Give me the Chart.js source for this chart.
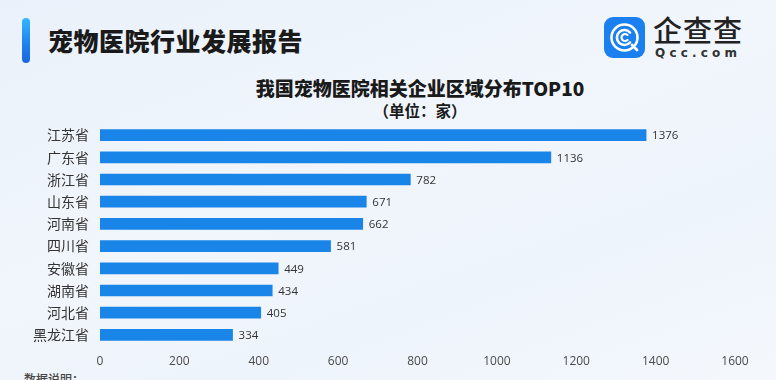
<!DOCTYPE html>
<html>
<head>
<meta charset="utf-8">
<script src="https://cdn.jsdelivr.net/npm/chart.js@4"></script>
<style>
  html,body{margin:0;padding:0;}
  body{width:776px;height:380px;overflow:hidden;position:relative;
    background:linear-gradient(160deg,#eaf1fa 0%,#f1f6fc 45%,#eef4fb 70%,#f4f8fd 100%);
    font-family:"Noto Sans CJK SC","Noto Sans",sans-serif;}
  #accent{position:absolute;left:22px;top:18px;width:8px;height:45px;border-radius:4px;
    background:linear-gradient(180deg,#35b6ff 0%,#1f7fef 60%,#1766e0 100%);}
  #head{position:absolute;left:48px;top:20px;font-size:25px;font-weight:900;color:#1a1a1a;line-height:40px;letter-spacing:0.5px;}
  #logo{position:absolute;left:604px;top:17px;width:41px;height:41px;border-radius:9px;background:#1a80f0;}
  #logo svg{position:absolute;left:0;top:0;}
  #brand{position:absolute;left:653px;top:12px;font-size:29px;color:#222;line-height:34px;letter-spacing:1px;font-weight:500;}
  #brand2{position:absolute;left:655px;top:46px;font-size:12px;color:#333;letter-spacing:4.2px;font-family:"DejaVu Sans",sans-serif;font-weight:bold;}
  #t1{position:absolute;left:0;width:840px;top:75px;text-align:center;font-size:19px;font-weight:900;color:#1a1a1a;line-height:26px;}
  #t2{position:absolute;left:0;width:840px;top:99px;text-align:center;font-size:15.5px;font-weight:700;color:#1a1a1a;line-height:22px;}
  #note{position:absolute;left:24px;top:371px;font-size:12px;color:#444;font-weight:500;line-height:16px;}
  canvas{position:absolute;left:0;top:0;}
</style>
</head>
<body>
<div id="accent"></div>
<div id="head">宠物医院行业发展报告</div>
<div id="logo"><svg width="41" height="41" viewBox="0 0 41 41">
  <circle cx="20.5" cy="20.5" r="13" fill="none" stroke="#fff" stroke-width="2.6"/>
  <path d="M26 15.5 A7.5 7.5 0 1 0 26 25.5" fill="none" stroke="#fff" stroke-width="2.6" stroke-linecap="round"/>
  <path d="M23.5 18 A3.5 3.5 0 1 0 23.5 23" fill="none" stroke="#fff" stroke-width="2.2" stroke-linecap="round"/>
  <path d="M28 28 L33 33" stroke="#fff" stroke-width="2.8" stroke-linecap="round"/>
</svg></div>
<div id="brand">企查查</div>
<div id="brand2">Qcc.com</div>
<div id="t1">我国宠物医院相关企业区域分布TOP10</div>
<div id="t2">（单位：家）</div>
<div id="note">数据说明：</div>
<canvas id="c" width="776" height="380"></canvas>
<script>
const categories = ["江苏省","广东省","浙江省","山东省","河南省","四川省","安徽省","湖南省","河北省","黑龙江省"];
const values = [1376,1136,782,671,662,581,449,434,405,334];
const xTicks = [0,200,400,600,800,1000,1200,1400,1600];

const valueLabels = {
  id:'valueLabels',
  afterDatasetsDraw(chart){
    const ctx = chart.ctx;
    const meta = chart.getDatasetMeta(0);
    ctx.save();
    ctx.font = '11.5px "Open Sans","Noto Sans",sans-serif';
    ctx.fillStyle = '#333';
    ctx.textBaseline = 'middle';
    ctx.textAlign = 'left';
    meta.data.forEach((bar,i)=>{
      ctx.fillText(String(values[i]), bar.x + 6, bar.y + 1);
    });
    ctx.restore();
  }
};

new Chart(document.getElementById('c'),{
  type:'bar',
  data:{labels:categories,datasets:[{data:values,backgroundColor:'#1a85e8',barThickness:11,borderWidth:0}]},
  options:{
    indexAxis:'y',
    responsive:false,
    animation:false,
    layout:{padding:{left:0,right:41,top:124,bottom:0}},
    plugins:{legend:{display:false},tooltip:{enabled:false},title:{display:false}},
    scales:{
      x:{min:0,max:1600,
        afterBuildTicks(s){s.ticks = xTicks.map(v=>({value:v}));},
        afterFit(s){s.height = 34;},
        grid:{display:false,drawTicks:false},border:{display:false},
        ticks:{padding:8,color:'#4a4a4a',callback:(v)=>String(v),font:{size:12,family:'"Open Sans","Noto Sans",sans-serif'}}},
      y:{
        afterFit(s){s.width = 100;},
        grid:{display:false,drawTicks:false},border:{display:false},
        ticks:{padding:11,color:'#333',font:{size:14,family:'"Noto Sans CJK SC",sans-serif'}}}
    }
  },
  plugins:[valueLabels]
});
</script>
</body>
</html>
